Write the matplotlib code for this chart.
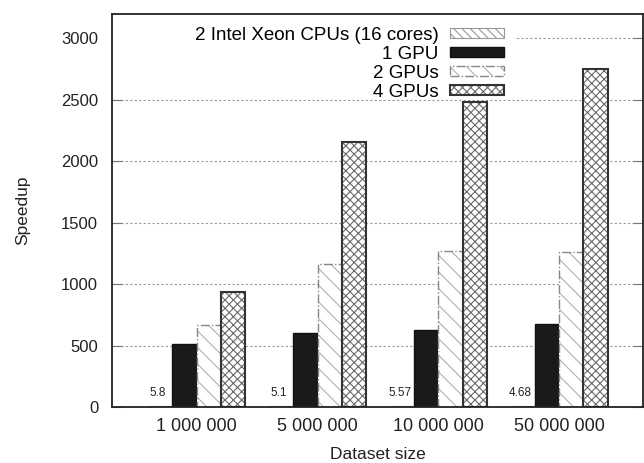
import numpy as np
import matplotlib.pyplot as plt
from matplotlib.patches import Rectangle

plt.rcParams['font.family'] = ['Liberation Sans', 'DejaVu Sans']
plt.rcParams['hatch.linewidth'] = 0.8

# data
datasets = ['1 000 000', '5 000 000', '10 000 000', '50 000 000']
cpu = [5.8, 5.1, 5.57, 4.68]
cpu_text = ['5.8', '5.1', '5.57', '4.68']
gpu1 = [512, 600, 626, 675]
gpu2 = [667, 1163, 1268, 1262]
gpu4 = [935, 2154, 2480, 2748]
names = ['2 Intel Xeon CPUs (16 cores)', '1 GPU', '2 GPUs', '4 GPUs']

fig = plt.figure(figsize=(6.44, 4.63), dpi=100)
ax = fig.add_axes([0.174, 0.121, 0.824, 0.849])

x = np.arange(len(datasets))
w = 0.2

# CPU bars (barely visible)
b_cpu = ax.bar(x - 1.5 * w, cpu, w, facecolor='white', edgecolor='#999999',
               hatch='\\\\\\\\', linewidth=0.8, zorder=2)
# 1 GPU
b_g1 = ax.bar(x - 0.5 * w, gpu1, w, color='#1a1a1a', edgecolor='#111111',
              linewidth=1, zorder=2)
# 2 GPUs: hatch layer + dash-dot outline
b_g2h = ax.bar(x + 0.5 * w, gpu2, w, facecolor='white', edgecolor='#b0b0b0',
               hatch='\\\\', linewidth=0, zorder=2)
b_g2e = ax.bar(x + 0.5 * w, gpu2, w, fill=False, edgecolor='#888888',
               linewidth=1, linestyle='-.', zorder=2.1)
# 4 GPUs: crosshatch + dark outline
b_g4h = ax.bar(x + 1.5 * w, gpu4, w, facecolor='white', edgecolor='#6a6a6a',
               hatch='xxxx', linewidth=0, zorder=2)
b_g4e = ax.bar(x + 1.5 * w, gpu4, w, fill=False, edgecolor='#333333',
               linewidth=1.5, zorder=2.1)

for xi, v, t in zip(x, cpu, cpu_text):
    ax.annotate(t, (xi - 1.6 * w, v), xytext=(0, 5), textcoords='offset points',
                ha='center', va='bottom', fontsize=8.5, color='#222222')

ax.set_xlim(-0.70, 3.69)
ax.set_ylim(0, 3200)
ax.set_xticks(x)
ax.set_xticklabels(datasets)
ax.set_yticks(np.arange(0, 3001, 500))

ax.yaxis.grid(True, linestyle=(0, (2, 2)), color='#999999', linewidth=0.8)
ax.set_axisbelow(True)
ax.tick_params(axis='y', direction='in', length=7, color='#777777', right=True,
               labelsize=12, labelcolor='#222222', pad=10)
ax.tick_params(axis='x', length=0, labelsize=13, pad=8, labelcolor='#222222')
for s in ax.spines.values():
    s.set_color('#222222')
    s.set_linewidth(1.3)

ax.set_ylabel('Speedup', fontsize=12.5, color='#222222', labelpad=22)
ax.set_xlabel('Dataset size', fontsize=12.5, color='#222222', labelpad=8.5)

# opaque key area
ax.add_patch(Rectangle((0, 0.79), 0.761, 0.21, transform=ax.transAxes,
                       facecolor='white', edgecolor='none', zorder=0.8))

handles = [b_cpu[0], b_g1[0], (b_g2h[0], b_g2e[0]), (b_g4h[0], b_g4e[0])]
ax.legend(handles, names, loc='upper right', bbox_to_anchor=(0.76, 0.995),
          markerfirst=False, frameon=False, fontsize=13.5, handlelength=2.9,
          handleheight=0.45, labelspacing=0.1, handletextpad=0.6,
          borderaxespad=0.2)

plt.savefig('out.png', dpi=100)
